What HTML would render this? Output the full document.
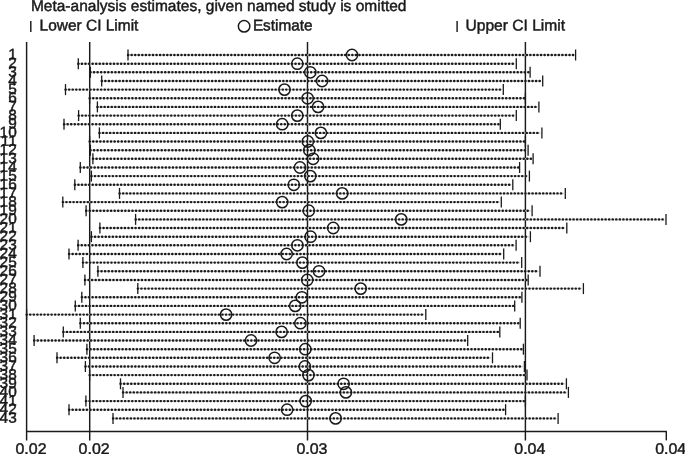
<!DOCTYPE html>
<html><head><meta charset="utf-8"><title>Meta-analysis estimates</title>
<style>
html,body{margin:0;padding:0;background:#fff;}
body{width:685px;height:454px;overflow:hidden;}
svg{display:block;}
text{font-family:"Liberation Sans",sans-serif;font-size:15.5px;fill:#1a1a1a;stroke:#1a1a1a;stroke-width:0.45px;text-rendering:geometricPrecision;}
.rl{font-size:15.1px;}
.ln{stroke:#1a1a1a;stroke-width:1.45;fill:none;}
.dot{stroke:#1a1a1a;stroke-width:2.4;stroke-dasharray:0.2 3.36;stroke-linecap:round;fill:none;}
.hz{stroke:#cccccc;stroke-width:1.5;fill:none;}
.tk{stroke:#1a1a1a;stroke-width:1.3;fill:none;}
.c{stroke:#1a1a1a;stroke-width:1.5;fill:none;}
</style></head><body>
<svg width="685" height="454" viewBox="0 0 685 454">
<rect width="685" height="454" fill="#fff"/>

<text transform="translate(30.90 10.90) rotate(0.03)" textLength="375.6" lengthAdjust="spacingAndGlyphs">Meta-analysis estimates, given named study is omitted</text>
<line class="ln" x1="30.8" y1="20.9" x2="30.8" y2="31.9"/>
<text transform="translate(39.60 30.55) rotate(0.03)" textLength="98.8" lengthAdjust="spacingAndGlyphs">Lower CI Limit</text>
<circle class="c" cx="244.1" cy="26.3" r="5.75"/>
<text transform="translate(252.90 30.55) rotate(0.03)" textLength="59.6" lengthAdjust="spacingAndGlyphs">Estimate</text>
<line class="ln" x1="457.1" y1="20.9" x2="457.1" y2="31.9"/>
<text transform="translate(465.50 30.55) rotate(0.03)" textLength="99.6" lengthAdjust="spacingAndGlyphs">Upper CI Limit</text>
<line class="ln" x1="26.6" y1="42" x2="26.6" y2="440.4"/>
<line class="ln" x1="89.7" y1="42" x2="89.7" y2="440.4"/>
<line class="ln" x1="307.5" y1="42" x2="307.5" y2="440.4"/>
<line class="ln" x1="525.4" y1="42" x2="525.4" y2="440.4"/>
<line class="ln" x1="666.3" y1="431.5" x2="666.3" y2="440.4"/>
<line class="ln" x1="26" y1="431.5" x2="666.9" y2="431.5"/>
<text transform="translate(15.50 454.00) rotate(0.03)" textLength="31.0" lengthAdjust="spacingAndGlyphs">0.02</text>
<text transform="translate(78.60 454.00) rotate(0.03)" textLength="31.0" lengthAdjust="spacingAndGlyphs">0.02</text>
<text transform="translate(296.40 454.00) rotate(0.03)" textLength="31.0" lengthAdjust="spacingAndGlyphs">0.03</text>
<text transform="translate(514.30 454.00) rotate(0.03)" textLength="31.0" lengthAdjust="spacingAndGlyphs">0.04</text>
<text transform="translate(655.20 454.00) rotate(0.03)" textLength="31.0" lengthAdjust="spacingAndGlyphs">0.04</text>
<text transform="translate(16.70 59.35) rotate(0.03) scale(1.020 1)" class="rl" text-anchor="end">1</text>
<line class="hz" x1="128.0" y1="55.0" x2="574.1" y2="55.0"/>
<line class="dot" x1="128.0" y1="55.0" x2="574.4" y2="55.0"/>
<line class="tk" x1="128.0" y1="49.5" x2="128.0" y2="60.5"/>
<line class="tk" x1="575.6" y1="49.5" x2="575.6" y2="60.5"/>
<circle class="c" cx="352.0" cy="55.0" r="5.65"/>
<text transform="translate(16.70 68.00) rotate(0.03) scale(1.020 1)" class="rl" text-anchor="end">2</text>
<line class="hz" x1="78.3" y1="63.7" x2="514.8" y2="63.7"/>
<line class="dot" x1="78.3" y1="63.7" x2="515.1" y2="63.7"/>
<line class="tk" x1="78.3" y1="58.2" x2="78.3" y2="69.2"/>
<line class="tk" x1="516.3" y1="58.2" x2="516.3" y2="69.2"/>
<circle class="c" cx="297.3" cy="63.7" r="5.65"/>
<text transform="translate(16.70 76.65) rotate(0.03) scale(1.020 1)" class="rl" text-anchor="end">3</text>
<line class="hz" x1="90.4" y1="72.3" x2="528.6" y2="72.3"/>
<line class="dot" x1="90.4" y1="72.3" x2="528.9" y2="72.3"/>
<line class="tk" x1="90.4" y1="66.8" x2="90.4" y2="77.8"/>
<line class="tk" x1="530.1" y1="66.8" x2="530.1" y2="77.8"/>
<circle class="c" cx="310.3" cy="72.3" r="5.65"/>
<text transform="translate(16.70 85.31) rotate(0.03) scale(1.020 1)" class="rl" text-anchor="end">4</text>
<line class="hz" x1="101.7" y1="81.0" x2="541.2" y2="81.0"/>
<line class="dot" x1="101.7" y1="81.0" x2="541.5" y2="81.0"/>
<line class="tk" x1="101.7" y1="75.5" x2="101.7" y2="86.5"/>
<line class="tk" x1="542.7" y1="75.5" x2="542.7" y2="86.5"/>
<circle class="c" cx="322.1" cy="81.0" r="5.65"/>
<text transform="translate(16.70 93.96) rotate(0.03) scale(1.020 1)" class="rl" text-anchor="end">5</text>
<line class="hz" x1="65.5" y1="89.6" x2="501.8" y2="89.6"/>
<line class="dot" x1="65.5" y1="89.6" x2="502.1" y2="89.6"/>
<line class="tk" x1="65.5" y1="84.1" x2="65.5" y2="95.1"/>
<line class="tk" x1="503.3" y1="84.1" x2="503.3" y2="95.1"/>
<circle class="c" cx="284.5" cy="89.6" r="5.65"/>
<text transform="translate(16.70 102.61) rotate(0.03) scale(1.020 1)" class="rl" text-anchor="end">6</text>
<line class="hz" x1="89.6" y1="98.3" x2="523.9" y2="98.3"/>
<line class="dot" x1="89.6" y1="98.3" x2="524.2" y2="98.3"/>
<line class="tk" x1="89.6" y1="92.8" x2="89.6" y2="103.8"/>
<line class="tk" x1="525.4" y1="92.8" x2="525.4" y2="103.8"/>
<circle class="c" cx="307.6" cy="98.3" r="5.65"/>
<text transform="translate(16.70 111.26) rotate(0.03) scale(1.020 1)" class="rl" text-anchor="end">7</text>
<line class="hz" x1="97.4" y1="106.9" x2="537.4" y2="106.9"/>
<line class="dot" x1="97.4" y1="106.9" x2="537.7" y2="106.9"/>
<line class="tk" x1="97.4" y1="101.4" x2="97.4" y2="112.4"/>
<line class="tk" x1="538.9" y1="101.4" x2="538.9" y2="112.4"/>
<circle class="c" cx="318.1" cy="106.9" r="5.65"/>
<text transform="translate(16.70 119.91) rotate(0.03) scale(1.020 1)" class="rl" text-anchor="end">8</text>
<line class="hz" x1="78.6" y1="115.6" x2="514.8" y2="115.6"/>
<line class="dot" x1="78.6" y1="115.6" x2="515.1" y2="115.6"/>
<line class="tk" x1="78.6" y1="110.1" x2="78.6" y2="121.1"/>
<line class="tk" x1="516.3" y1="110.1" x2="516.3" y2="121.1"/>
<circle class="c" cx="297.3" cy="115.6" r="5.65"/>
<text transform="translate(16.70 128.57) rotate(0.03) scale(1.020 1)" class="rl" text-anchor="end">9</text>
<line class="hz" x1="64.0" y1="124.2" x2="498.8" y2="124.2"/>
<line class="dot" x1="64.0" y1="124.2" x2="499.1" y2="124.2"/>
<line class="tk" x1="64.0" y1="118.7" x2="64.0" y2="129.7"/>
<line class="tk" x1="500.3" y1="118.7" x2="500.3" y2="129.7"/>
<circle class="c" cx="282.2" cy="124.2" r="5.65"/>
<text transform="translate(16.70 137.22) rotate(0.03) scale(1.020 1)" class="rl" text-anchor="end">10</text>
<line class="hz" x1="99.4" y1="132.9" x2="540.4" y2="132.9"/>
<line class="dot" x1="99.4" y1="132.9" x2="540.7" y2="132.9"/>
<line class="tk" x1="99.4" y1="127.4" x2="99.4" y2="138.4"/>
<line class="tk" x1="541.9" y1="127.4" x2="541.9" y2="138.4"/>
<circle class="c" cx="320.9" cy="132.9" r="5.65"/>
<text transform="translate(16.70 145.87) rotate(0.03) scale(1.020 1)" class="rl" text-anchor="end">11</text>
<line class="hz" x1="89.6" y1="141.5" x2="523.9" y2="141.5"/>
<line class="dot" x1="89.6" y1="141.5" x2="524.2" y2="141.5"/>
<line class="tk" x1="89.6" y1="136.0" x2="89.6" y2="147.0"/>
<line class="tk" x1="525.4" y1="136.0" x2="525.4" y2="147.0"/>
<circle class="c" cx="307.8" cy="141.5" r="5.65"/>
<text transform="translate(16.70 154.52) rotate(0.03) scale(1.020 1)" class="rl" text-anchor="end">12</text>
<line class="hz" x1="90.4" y1="150.2" x2="526.6" y2="150.2"/>
<line class="dot" x1="90.4" y1="150.2" x2="526.9" y2="150.2"/>
<line class="tk" x1="90.4" y1="144.7" x2="90.4" y2="155.7"/>
<line class="tk" x1="528.1" y1="144.7" x2="528.1" y2="155.7"/>
<circle class="c" cx="309.3" cy="150.2" r="5.65"/>
<text transform="translate(16.70 163.17) rotate(0.03) scale(1.020 1)" class="rl" text-anchor="end">13</text>
<line class="hz" x1="92.9" y1="158.8" x2="531.6" y2="158.8"/>
<line class="dot" x1="92.9" y1="158.8" x2="531.9" y2="158.8"/>
<line class="tk" x1="92.9" y1="153.3" x2="92.9" y2="164.3"/>
<line class="tk" x1="533.1" y1="153.3" x2="533.1" y2="164.3"/>
<circle class="c" cx="313.1" cy="158.8" r="5.65"/>
<text transform="translate(16.70 171.83) rotate(0.03) scale(1.020 1)" class="rl" text-anchor="end">14</text>
<line class="hz" x1="80.3" y1="167.5" x2="518.1" y2="167.5"/>
<line class="dot" x1="80.3" y1="167.5" x2="518.4" y2="167.5"/>
<line class="tk" x1="80.3" y1="162.0" x2="80.3" y2="173.0"/>
<line class="tk" x1="519.6" y1="162.0" x2="519.6" y2="173.0"/>
<circle class="c" cx="300.0" cy="167.5" r="5.65"/>
<text transform="translate(16.70 180.48) rotate(0.03) scale(1.020 1)" class="rl" text-anchor="end">15</text>
<line class="hz" x1="91.4" y1="176.1" x2="527.9" y2="176.1"/>
<line class="dot" x1="91.4" y1="176.1" x2="528.2" y2="176.1"/>
<line class="tk" x1="91.4" y1="170.6" x2="91.4" y2="181.6"/>
<line class="tk" x1="529.4" y1="170.6" x2="529.4" y2="181.6"/>
<circle class="c" cx="310.3" cy="176.1" r="5.65"/>
<text transform="translate(16.70 189.13) rotate(0.03) scale(1.020 1)" class="rl" text-anchor="end">16</text>
<line class="hz" x1="74.8" y1="184.8" x2="511.3" y2="184.8"/>
<line class="dot" x1="74.8" y1="184.8" x2="511.6" y2="184.8"/>
<line class="tk" x1="74.8" y1="179.3" x2="74.8" y2="190.3"/>
<line class="tk" x1="512.8" y1="179.3" x2="512.8" y2="190.3"/>
<circle class="c" cx="293.8" cy="184.8" r="5.65"/>
<text transform="translate(16.70 197.78) rotate(0.03) scale(1.020 1)" class="rl" text-anchor="end">17</text>
<line class="hz" x1="119.5" y1="193.4" x2="563.8" y2="193.4"/>
<line class="dot" x1="119.5" y1="193.4" x2="564.1" y2="193.4"/>
<line class="tk" x1="119.5" y1="187.9" x2="119.5" y2="198.9"/>
<line class="tk" x1="565.3" y1="187.9" x2="565.3" y2="198.9"/>
<circle class="c" cx="342.2" cy="193.4" r="5.65"/>
<text transform="translate(16.70 206.43) rotate(0.03) scale(1.020 1)" class="rl" text-anchor="end">18</text>
<line class="hz" x1="62.8" y1="202.1" x2="499.8" y2="202.1"/>
<line class="dot" x1="62.8" y1="202.1" x2="500.1" y2="202.1"/>
<line class="tk" x1="62.8" y1="196.6" x2="62.8" y2="207.6"/>
<line class="tk" x1="501.3" y1="196.6" x2="501.3" y2="207.6"/>
<circle class="c" cx="282.2" cy="202.1" r="5.65"/>
<text transform="translate(16.70 215.09) rotate(0.03) scale(1.020 1)" class="rl" text-anchor="end">19</text>
<line class="hz" x1="86.1" y1="210.7" x2="530.6" y2="210.7"/>
<line class="dot" x1="86.1" y1="210.7" x2="530.9" y2="210.7"/>
<line class="tk" x1="86.1" y1="205.2" x2="86.1" y2="216.2"/>
<line class="tk" x1="532.1" y1="205.2" x2="532.1" y2="216.2"/>
<circle class="c" cx="308.8" cy="210.7" r="5.65"/>
<text transform="translate(16.70 223.74) rotate(0.03) scale(1.020 1)" class="rl" text-anchor="end">20</text>
<line class="hz" x1="135.6" y1="219.4" x2="664.5" y2="219.4"/>
<line class="dot" x1="135.6" y1="219.4" x2="664.8" y2="219.4"/>
<line class="tk" x1="135.6" y1="213.9" x2="135.6" y2="224.9"/>
<line class="tk" x1="666.0" y1="213.9" x2="666.0" y2="224.9"/>
<circle class="c" cx="401.2" cy="219.4" r="5.65"/>
<text transform="translate(16.70 232.39) rotate(0.03) scale(1.020 1)" class="rl" text-anchor="end">21</text>
<line class="hz" x1="99.9" y1="228.0" x2="565.3" y2="228.0"/>
<line class="dot" x1="99.9" y1="228.0" x2="565.6" y2="228.0"/>
<line class="tk" x1="99.9" y1="222.5" x2="99.9" y2="233.5"/>
<line class="tk" x1="566.8" y1="222.5" x2="566.8" y2="233.5"/>
<circle class="c" cx="333.2" cy="228.0" r="5.65"/>
<text transform="translate(16.70 241.04) rotate(0.03) scale(1.020 1)" class="rl" text-anchor="end">22</text>
<line class="hz" x1="91.4" y1="236.7" x2="528.9" y2="236.7"/>
<line class="dot" x1="91.4" y1="236.7" x2="529.2" y2="236.7"/>
<line class="tk" x1="91.4" y1="231.2" x2="91.4" y2="242.2"/>
<line class="tk" x1="530.4" y1="231.2" x2="530.4" y2="242.2"/>
<circle class="c" cx="310.6" cy="236.7" r="5.65"/>
<text transform="translate(16.70 249.69) rotate(0.03) scale(1.020 1)" class="rl" text-anchor="end">23</text>
<line class="hz" x1="78.1" y1="245.3" x2="514.6" y2="245.3"/>
<line class="dot" x1="78.1" y1="245.3" x2="514.9" y2="245.3"/>
<line class="tk" x1="78.1" y1="239.8" x2="78.1" y2="250.8"/>
<line class="tk" x1="516.1" y1="239.8" x2="516.1" y2="250.8"/>
<circle class="c" cx="297.4" cy="245.3" r="5.65"/>
<text transform="translate(16.70 258.35) rotate(0.03) scale(1.020 1)" class="rl" text-anchor="end">24</text>
<line class="hz" x1="69.0" y1="254.0" x2="502.2" y2="254.0"/>
<line class="dot" x1="69.0" y1="254.0" x2="502.5" y2="254.0"/>
<line class="tk" x1="69.0" y1="248.5" x2="69.0" y2="259.5"/>
<line class="tk" x1="503.7" y1="248.5" x2="503.7" y2="259.5"/>
<circle class="c" cx="286.6" cy="254.0" r="5.65"/>
<text transform="translate(16.70 267.00) rotate(0.03) scale(1.020 1)" class="rl" text-anchor="end">25</text>
<line class="hz" x1="82.9" y1="262.6" x2="520.2" y2="262.6"/>
<line class="dot" x1="82.9" y1="262.6" x2="520.5" y2="262.6"/>
<line class="tk" x1="82.9" y1="257.1" x2="82.9" y2="268.1"/>
<line class="tk" x1="521.7" y1="257.1" x2="521.7" y2="268.1"/>
<circle class="c" cx="302.4" cy="262.6" r="5.65"/>
<text transform="translate(16.70 275.65) rotate(0.03) scale(1.020 1)" class="rl" text-anchor="end">26</text>
<line class="hz" x1="97.9" y1="271.3" x2="538.5" y2="271.3"/>
<line class="dot" x1="97.9" y1="271.3" x2="538.8" y2="271.3"/>
<line class="tk" x1="97.9" y1="265.8" x2="97.9" y2="276.8"/>
<line class="tk" x1="540.0" y1="265.8" x2="540.0" y2="276.8"/>
<circle class="c" cx="319.0" cy="271.3" r="5.65"/>
<text transform="translate(16.70 284.30) rotate(0.03) scale(1.020 1)" class="rl" text-anchor="end">27</text>
<line class="hz" x1="84.9" y1="280.0" x2="526.7" y2="280.0"/>
<line class="dot" x1="84.9" y1="280.0" x2="527.0" y2="280.0"/>
<line class="tk" x1="84.9" y1="274.5" x2="84.9" y2="285.5"/>
<line class="tk" x1="528.2" y1="274.5" x2="528.2" y2="285.5"/>
<circle class="c" cx="307.2" cy="280.0" r="5.65"/>
<text transform="translate(16.70 292.95) rotate(0.03) scale(1.020 1)" class="rl" text-anchor="end">28</text>
<line class="hz" x1="137.8" y1="288.6" x2="581.9" y2="288.6"/>
<line class="dot" x1="137.8" y1="288.6" x2="582.2" y2="288.6"/>
<line class="tk" x1="137.8" y1="283.1" x2="137.8" y2="294.1"/>
<line class="tk" x1="583.4" y1="283.1" x2="583.4" y2="294.1"/>
<circle class="c" cx="360.7" cy="288.6" r="5.65"/>
<text transform="translate(16.70 301.61) rotate(0.03) scale(1.020 1)" class="rl" text-anchor="end">29</text>
<line class="hz" x1="81.8" y1="297.3" x2="520.4" y2="297.3"/>
<line class="dot" x1="81.8" y1="297.3" x2="520.7" y2="297.3"/>
<line class="tk" x1="81.8" y1="291.8" x2="81.8" y2="302.8"/>
<line class="tk" x1="521.9" y1="291.8" x2="521.9" y2="302.8"/>
<circle class="c" cx="301.9" cy="297.3" r="5.65"/>
<text transform="translate(16.70 310.26) rotate(0.03) scale(1.020 1)" class="rl" text-anchor="end">30</text>
<line class="hz" x1="75.3" y1="305.9" x2="513.2" y2="305.9"/>
<line class="dot" x1="75.3" y1="305.9" x2="513.5" y2="305.9"/>
<line class="tk" x1="75.3" y1="300.4" x2="75.3" y2="311.4"/>
<line class="tk" x1="514.7" y1="300.4" x2="514.7" y2="311.4"/>
<circle class="c" cx="295.2" cy="305.9" r="5.65"/>
<text transform="translate(16.70 318.91) rotate(0.03) scale(1.020 1)" class="rl" text-anchor="end">31</text>
<line class="hz" x1="26.6" y1="314.6" x2="424.3" y2="314.6"/>
<line class="dot" x1="26.6" y1="314.6" x2="424.6" y2="314.6"/>
<line class="tk" x1="26.6" y1="309.1" x2="26.6" y2="320.1"/>
<line class="tk" x1="425.8" y1="309.1" x2="425.8" y2="320.1"/>
<circle class="c" cx="226.1" cy="314.6" r="5.65"/>
<text transform="translate(16.70 327.56) rotate(0.03) scale(1.020 1)" class="rl" text-anchor="end">32</text>
<line class="hz" x1="80.3" y1="323.2" x2="518.7" y2="323.2"/>
<line class="dot" x1="80.3" y1="323.2" x2="519.0" y2="323.2"/>
<line class="tk" x1="80.3" y1="317.7" x2="80.3" y2="328.7"/>
<line class="tk" x1="520.2" y1="317.7" x2="520.2" y2="328.7"/>
<circle class="c" cx="300.4" cy="323.2" r="5.65"/>
<text transform="translate(16.70 336.21) rotate(0.03) scale(1.020 1)" class="rl" text-anchor="end">33</text>
<line class="hz" x1="63.3" y1="331.9" x2="498.3" y2="331.9"/>
<line class="dot" x1="63.3" y1="331.9" x2="498.6" y2="331.9"/>
<line class="tk" x1="63.3" y1="326.4" x2="63.3" y2="337.4"/>
<line class="tk" x1="499.8" y1="326.4" x2="499.8" y2="337.4"/>
<circle class="c" cx="281.6" cy="331.9" r="5.65"/>
<text transform="translate(16.70 344.87) rotate(0.03) scale(1.020 1)" class="rl" text-anchor="end">34</text>
<line class="hz" x1="34.1" y1="340.5" x2="466.2" y2="340.5"/>
<line class="dot" x1="34.1" y1="340.5" x2="466.5" y2="340.5"/>
<line class="tk" x1="34.1" y1="335.0" x2="34.1" y2="346.0"/>
<line class="tk" x1="467.7" y1="335.0" x2="467.7" y2="346.0"/>
<circle class="c" cx="251.0" cy="340.5" r="5.65"/>
<text transform="translate(16.70 353.52) rotate(0.03) scale(1.020 1)" class="rl" text-anchor="end">35</text>
<line class="hz" x1="86.9" y1="349.2" x2="521.9" y2="349.2"/>
<line class="dot" x1="86.9" y1="349.2" x2="522.2" y2="349.2"/>
<line class="tk" x1="86.9" y1="343.7" x2="86.9" y2="354.7"/>
<line class="tk" x1="523.4" y1="343.7" x2="523.4" y2="354.7"/>
<circle class="c" cx="305.3" cy="349.2" r="5.65"/>
<text transform="translate(16.70 362.17) rotate(0.03) scale(1.020 1)" class="rl" text-anchor="end">36</text>
<line class="hz" x1="57.0" y1="357.8" x2="491.0" y2="357.8"/>
<line class="dot" x1="57.0" y1="357.8" x2="491.3" y2="357.8"/>
<line class="tk" x1="57.0" y1="352.3" x2="57.0" y2="363.3"/>
<line class="tk" x1="492.5" y1="352.3" x2="492.5" y2="363.3"/>
<circle class="c" cx="274.6" cy="357.8" r="5.65"/>
<text transform="translate(16.70 370.82) rotate(0.03) scale(1.020 1)" class="rl" text-anchor="end">37</text>
<line class="hz" x1="85.4" y1="366.5" x2="522.9" y2="366.5"/>
<line class="dot" x1="85.4" y1="366.5" x2="523.2" y2="366.5"/>
<line class="tk" x1="85.4" y1="361.0" x2="85.4" y2="372.0"/>
<line class="tk" x1="524.4" y1="361.0" x2="524.4" y2="372.0"/>
<circle class="c" cx="304.9" cy="366.5" r="5.65"/>
<text transform="translate(16.70 379.47) rotate(0.03) scale(1.020 1)" class="rl" text-anchor="end">38</text>
<line class="hz" x1="89.6" y1="375.1" x2="525.5" y2="375.1"/>
<line class="dot" x1="89.6" y1="375.1" x2="525.8" y2="375.1"/>
<line class="tk" x1="89.6" y1="369.6" x2="89.6" y2="380.6"/>
<line class="tk" x1="527.0" y1="369.6" x2="527.0" y2="380.6"/>
<circle class="c" cx="308.5" cy="375.1" r="5.65"/>
<text transform="translate(16.70 388.13) rotate(0.03) scale(1.020 1)" class="rl" text-anchor="end">39</text>
<line class="hz" x1="120.5" y1="383.8" x2="564.9" y2="383.8"/>
<line class="dot" x1="120.5" y1="383.8" x2="565.2" y2="383.8"/>
<line class="tk" x1="120.5" y1="378.3" x2="120.5" y2="389.3"/>
<line class="tk" x1="566.4" y1="378.3" x2="566.4" y2="389.3"/>
<circle class="c" cx="343.6" cy="383.8" r="5.65"/>
<text transform="translate(16.70 396.78) rotate(0.03) scale(1.020 1)" class="rl" text-anchor="end">40</text>
<line class="hz" x1="123.0" y1="392.4" x2="566.9" y2="392.4"/>
<line class="dot" x1="123.0" y1="392.4" x2="567.2" y2="392.4"/>
<line class="tk" x1="123.0" y1="386.9" x2="123.0" y2="397.9"/>
<line class="tk" x1="568.4" y1="386.9" x2="568.4" y2="397.9"/>
<circle class="c" cx="345.9" cy="392.4" r="5.65"/>
<text transform="translate(16.70 405.43) rotate(0.03) scale(1.020 1)" class="rl" text-anchor="end">41</text>
<line class="hz" x1="85.9" y1="401.1" x2="523.9" y2="401.1"/>
<line class="dot" x1="85.9" y1="401.1" x2="524.2" y2="401.1"/>
<line class="tk" x1="85.9" y1="395.6" x2="85.9" y2="406.6"/>
<line class="tk" x1="525.4" y1="395.6" x2="525.4" y2="406.6"/>
<circle class="c" cx="305.7" cy="401.1" r="5.65"/>
<text transform="translate(16.70 414.08) rotate(0.03) scale(1.020 1)" class="rl" text-anchor="end">42</text>
<line class="hz" x1="69.0" y1="409.7" x2="504.1" y2="409.7"/>
<line class="dot" x1="69.0" y1="409.7" x2="504.4" y2="409.7"/>
<line class="tk" x1="69.0" y1="404.2" x2="69.0" y2="415.2"/>
<line class="tk" x1="505.6" y1="404.2" x2="505.6" y2="415.2"/>
<circle class="c" cx="287.1" cy="409.7" r="5.65"/>
<text transform="translate(16.70 422.73) rotate(0.03) scale(1.020 1)" class="rl" text-anchor="end">43</text>
<line class="hz" x1="113.0" y1="418.4" x2="556.6" y2="418.4"/>
<line class="dot" x1="113.0" y1="418.4" x2="556.9" y2="418.4"/>
<line class="tk" x1="113.0" y1="412.9" x2="113.0" y2="423.9"/>
<line class="tk" x1="558.1" y1="412.9" x2="558.1" y2="423.9"/>
<circle class="c" cx="335.6" cy="418.4" r="5.65"/>
</svg></body></html>
